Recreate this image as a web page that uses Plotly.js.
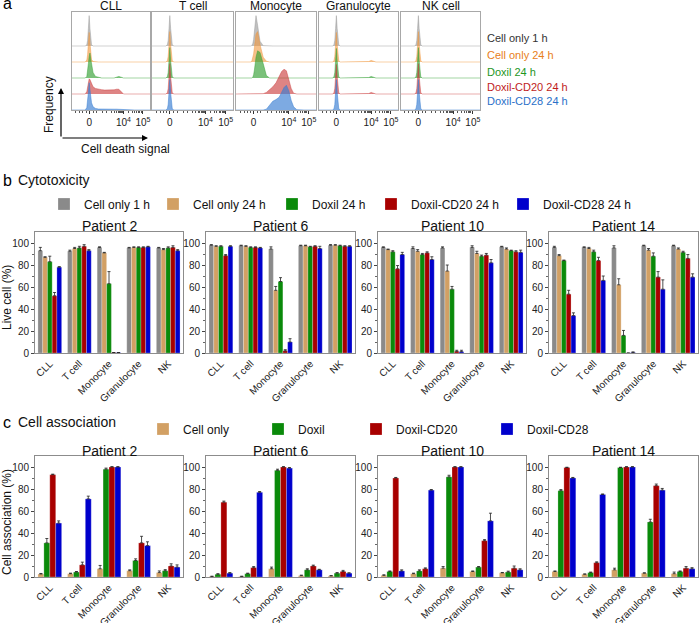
<!DOCTYPE html>
<html>
<head>
<meta charset="utf-8">
<script src="https://cdn.plot.ly/plotly-3.0.1.min.js"></script>
<style>html,body{margin:0;padding:0;background:#fff}#chart{width:700px;height:623px}</style>
</head>
<body>
<div id="chart"></div>
<script>
// ---- data ----
const cellTypes = ["CLL", "T cell", "Monocyte", "Granulocyte", "NK"];
const histTitles = ["CLL", "T cell", "Monocyte", "Granulocyte", "NK cell"];
const patients = ["Patient 2", "Patient 6", "Patient 10", "Patient 14"];
const cytoConditions = ["Cell only 1 h", "Cell only 24 h", "Doxil 24 h", "Doxil-CD20 24 h", "Doxil-CD28 24 h"];
const assocConditions = ["Cell only", "Doxil", "Doxil-CD20", "Doxil-CD28"];

// histogram grid (position across the biexponential axis, 0-100) and heights
const histX = [0, 10, 14, 17, 19, 20, 21, 22, 23, 24, 25, 27, 30, 34, 38, 42, 46, 50, 54, 57, 60, 63, 66, 69, 72, 76, 80, 85, 90, 100];
const peakNarrow = [0, 0, 0, 0, 0.08, 0.35, 1.1, 1.9, 1.1, 0.35, 0.08, 0, 0, 0, 0, 0, 0, 0, 0, 0, 0, 0, 0, 0, 0, 0, 0, 0, 0, 0];
const granBump = [0, 0, 0, 0, 0.08, 0.35, 1.1, 1.85, 1.1, 0.35, 0.08, 0, 0, 0, 0, 0, 0, 0, 0, 0, 0, 0.03, 0.1, 0.03, 0, 0, 0, 0, 0, 0];
const cllCellOnly24 = [0, 0, 0, 0, 0.12, 0.45, 1.2, 1.85, 1.2, 0.5, 0.15, 0.03, 0, 0, 0, 0, 0, 0, 0, 0, 0, 0, 0, 0, 0, 0, 0, 0, 0, 0];
const cllDoxil = [0, 0, 0, 0, 0.1, 0.4, 0.9, 1.35, 1.56, 1.2, 0.8, 0.35, 0.1, 0.03, 0, 0, 0, 0, 0, 0.05, 0.1, 0.05, 0, 0, 0, 0, 0, 0, 0, 0];
const cllCD20 = [0, 0, 0, 0, 0.15, 0.45, 0.8, 0.95, 0.9, 0.75, 0.6, 0.45, 0.35, 0.3, 0.27, 0.25, 0.24, 0.24, 0.26, 0.3, 0.3, 0.15, 0, 0, 0, 0, 0, 0, 0, 0];
const cllCD28 = [0, 0, 0, 0, 0.15, 0.5, 1.1, 1.7, 1.3, 0.8, 0.45, 0.2, 0.1, 0.06, 0.05, 0.05, 0.05, 0.05, 0.05, 0.05, 0.04, 0.03, 0, 0, 0, 0, 0, 0, 0, 0];
const monoCellOnly1 = [0, 0, 0, 0, 0, 0.05, 0.15, 0.4, 0.8, 1.4, 1.9, 1.3, 0.3, 0.02, 0, 0, 0, 0, 0, 0, 0, 0, 0, 0, 0, 0, 0, 0, 0, 0];
const monoCellOnly24 = [0, 0, 0, 0, 0, 0.1, 0.25, 0.5, 0.9, 1.4, 1.75, 1.9, 1.1, 0.3, 0.05, 0, 0, 0, 0, 0, 0, 0, 0, 0, 0, 0, 0, 0, 0, 0];
const monoDoxil = [0, 0, 0, 0, 0, 0, 0.05, 0.2, 0.5, 0.9, 1.3, 1.7, 1.6, 0.9, 0.15, 0, 0, 0, 0, 0, 0, 0, 0, 0, 0, 0, 0, 0, 0, 0];
const monoCD20 = [0, 0, 0, 0, 0, 0, 0, 0, 0, 0, 0, 0, 0, 0.02, 0.1, 0.25, 0.45, 0.7, 1.05, 1.4, 1.55, 1.45, 0.9, 0.35, 0.05, 0, 0, 0, 0, 0];
const monoCD28 = [0, 0, 0, 0, 0, 0, 0, 0, 0, 0, 0, 0, 0, 0, 0.05, 0.3, 0.55, 0.65, 0.8, 1.1, 1.4, 1.55, 1.2, 0.6, 0.2, 0.02, 0, 0, 0, 0];

const histPanels = [
  [peakNarrow, cllCellOnly24, cllDoxil, cllCD20, cllCD28],
  [peakNarrow, peakNarrow, peakNarrow, peakNarrow, peakNarrow],
  [monoCellOnly1, monoCellOnly24, monoDoxil, monoCD20, monoCD28],
  [peakNarrow, granBump, granBump, granBump, peakNarrow],
  [peakNarrow, peakNarrow, peakNarrow, peakNarrow, peakNarrow],
];

// live cell (%), rows = condition, columns = cell type
const liveP2 = [[93, 92.5, 96, 95.5, 95.5], [87, 95, 91, 96, 94], [83, 95.5, 63, 96, 95.5], [52, 97, 0.4, 96, 96], [78, 93, 0.4, 96.5, 93]];
const liveErrP2 = [[3, 1, 0.5, 0.5, 0.5], [0.5, 1, 0.5, 0.5, 1], [5, 1.5, 11, 0.5, 1], [3, 1.5, 0, 0.5, 1.5], [0.5, 1, 0, 0.5, 1]];
const liveP6 = [[98, 97.5, 94.5, 97.5, 98], [97, 97, 57, 97.5, 98], [97, 96, 65, 96.5, 97.5], [88.5, 96, 2, 97, 97], [97, 95.5, 10, 95, 97]];
const liveErrP6 = [[0.5, 0.5, 2, 0.5, 0.5], [0.5, 0.5, 3.5, 0.5, 0.5], [0.5, 0.5, 3.5, 0.5, 0.5], [1, 0.5, 1, 0.5, 0.5], [0.5, 0.5, 3, 2, 0.5]];
const liveP10 = [[96, 95, 95.5, 96, 96.5], [94, 92.5, 74.5, 90.5, 94.5], [92, 89.5, 58, 88, 93], [76.5, 91, 1.5, 89, 92], [89.5, 85, 1.2, 82, 91.5]];
const liveErrP10 = [[0.5, 1.5, 1, 1.5, 0.5], [0.5, 1.5, 5.5, 2, 1], [1, 1, 2.5, 1, 0.5], [3, 1, 1, 1.5, 1], [2, 2.5, 1.3, 3, 2]];
const liveP14 = [[96, 96, 95.5, 97.5, 97.5], [88.5, 95, 62, 93.5, 94.5], [84, 92, 16, 88, 91.5], [53.5, 84, 0, 69, 86], [34, 66, 0.5, 58, 69]];
const liveErrP14 = [[1, 0.5, 2, 0.5, 0.5], [1, 1, 5.5, 1.5, 1], [0.5, 1.5, 4.5, 3, 1], [3.5, 3, 0, 5, 3.5], [2.5, 4, 0.5, 8.5, 3]];

// cell association (%), rows = condition, columns = cell type
const assocP2 = [[2.7, 3, 7.5, 5.7, 4], [31, 4.5, 98, 15, 5.7], [93, 11, 100, 31, 10], [49, 71, 100, 28.5, 9]];
const assocErrP2 = [[0.5, 0.5, 3, 0.8, 1.5], [4, 0.5, 1, 1.5, 1], [0.5, 2.5, 0.3, 6, 2], [2, 2.5, 0.3, 3.5, 2]];
const assocP6 = [[0.5, 0.5, 7.5, 1.2, 1], [2.5, 3, 97, 6.5, 3.5], [68, 8.5, 100, 10, 5], [3.5, 77, 99, 6.5, 3.5]];
const assocErrP6 = [[0.2, 0.2, 1.5, 0.5, 0.3], [0.5, 0.5, 1, 1, 0.5], [1, 1, 0.3, 0.8, 1], [0.5, 0.7, 0.5, 0.5, 0.3]];
const assocP10 = [[1.5, 3, 8, 5, 3.8], [5, 5.5, 91, 9, 4.5], [90, 7.5, 100, 33, 8], [5.5, 79, 100, 51, 6.5]];
const assocErrP10 = [[0.5, 0.5, 1.5, 0.5, 0.3], [0.5, 1, 1.5, 0.5, 0.8], [0.5, 0.8, 0.3, 1, 2], [1, 0.5, 0.3, 7, 1]];
const assocP14 = [[5, 2.5, 6.5, 3.5, 3], [78.5, 4, 99.5, 50, 5], [99.5, 13, 100, 83, 8], [90, 75, 100, 79, 7.5]];
const assocErrP14 = [[0.5, 0.3, 1.5, 0.3, 1.5], [1, 0.5, 0.3, 2.5, 0.5], [0.3, 0.8, 0.3, 1.5, 1.5], [0.5, 0.5, 0.3, 1.5, 1]];

const liveData = [liveP2, liveP6, liveP10, liveP14];
const liveErr = [liveErrP2, liveErrP6, liveErrP10, liveErrP14];
const assocData = [assocP2, assocP6, assocP10, assocP14];
const assocErr = [assocErrP2, assocErrP6, assocErrP10, assocErrP14];

// ---- styling ----
const W = 700, H = 623;
const FONT = "Liberation Sans, Arial, sans-serif";
const px = (x) => x / W;
const py = (y) => 1 - y / H;

const cytoColors = ["#8a8a8a", "#d2a064", "#0a8a0a", "#a80000", "#0000cc"];
const assocColors = ["#d2a064", "#0a8a0a", "#a80000", "#0000cc"];
const histFill = ["rgba(150,150,150,0.6)", "rgba(240,150,60,0.6)", "rgba(50,160,50,0.65)", "rgba(200,50,50,0.6)", "rgba(55,125,210,0.65)"];
const histLine = ["rgba(150,150,150,0.45)", "rgba(240,150,60,0.45)", "rgba(50,160,50,0.45)", "rgba(200,50,50,0.4)", "rgba(55,125,210,0.5)"];
const histLabelColors = ["#333333", "#e8801a", "#1e961e", "#c01c1c", "#2a70c8"];
const histMinor = [5, 10, 14, 18, 27, 31, 39, 44, 50, 54, 57, 59, 61, 62.5, 64, 65, 72, 77, 80, 83, 85, 87, 88.5, 90];

const histDomains = [[72, 150], [152, 233], [236, 316], [319, 398], [401, 480]];
const barDomains = [[35, 183], [206, 355], [378, 526], [549, 698]];

const traces = [];
const annotations = [];
const layout = {
  width: W, height: H,
  margin: { l: 0, r: 0, t: 0, b: 0 },
  paper_bgcolor: "white", plot_bgcolor: "white",
  font: { family: FONT, color: "#222" },
  barmode: "group", bargap: 0.2, bargroupgap: 0,
  showlegend: true,
  annotations,
};

const ax = (n) => (n === 1 ? "" : String(n));

// plain text label placed in pixel coordinates
function label(text, x, y, size, opts = {}) {
  annotations.push(Object.assign({
    text, x: px(x), y: py(y), xref: "paper", yref: "paper", showarrow: false,
    xanchor: "center", yanchor: "middle", font: { size, color: "#111" },
  }, opts));
}

// ---- panel a: histograms ----
histPanels.forEach((rows, i) => {
  const n = i + 1, d = histDomains[i];
  layout["xaxis" + ax(n)] = {
    domain: [px(d[0]), px(d[1])], anchor: "y" + ax(n), range: [0, 100],
    showline: true, mirror: true, linecolor: "#a8a8a8", linewidth: 1,
    showgrid: false, zeroline: false,
    tickmode: "array", tickvals: [22, 66, 91], ticktext: ["0", "10<sup>4</sup>", "10<sup>5</sup>"],
    ticks: "outside", ticklen: 3, tickcolor: "#333", tickfont: { size: 10, color: "#222" },
    minor: { tickmode: "array", tickvals: histMinor, ticks: "outside", ticklen: 2, tickcolor: "#555" },
  };
  layout["yaxis" + ax(n)] = {
    domain: [py(110), py(12)], anchor: "x" + ax(n), range: [0, 6.125],
    showline: true, mirror: true, linecolor: "#a8a8a8", linewidth: 1,
    showgrid: false, zeroline: false, showticklabels: false, ticks: "",
  };
  rows.forEach((h, r) => {
    const base = 4 - r;
    traces.push({
      type: "scatter", mode: "lines", x: histX, y: h.map((v) => v + base),
      fill: "toself", fillcolor: histFill[r], line: { color: histLine[r], width: 1 },
      xaxis: "x" + ax(n), yaxis: "y" + ax(n), showlegend: false, hoverinfo: "skip",
    });
  });
  label(histTitles[i], (d[0] + d[1]) / 2, 6, 12);
});

const histLabelY = [38, 55, 72, 87, 101];
cytoConditions.forEach((c, r) => {
  label(c, 485, histLabelY[r], 11, { xanchor: "left", font: { size: 11, color: histLabelColors[r] } });
});

// axis arrows + labels
annotations.push({ x: px(61), y: py(88), xref: "paper", yref: "paper", ax: 0, ay: 50, text: "", showarrow: true,
  arrowhead: 2, arrowsize: 1, arrowwidth: 1.2, arrowcolor: "#000" });
annotations.push({ x: px(148), y: py(138), xref: "paper", yref: "paper", ax: -87, ay: 0, text: "", showarrow: true,
  arrowhead: 2, arrowsize: 1, arrowwidth: 1.2, arrowcolor: "#000" });
label("Frequency", 49, 105, 12, { textangle: -90 });
label("Cell death signal", 125, 149, 12);

// ---- panels b and c: grouped bars ----
function barAxes(n, d, top, bottom) {
  layout["xaxis" + n] = {
    domain: [px(d[0]), px(d[1])], anchor: "y" + n, type: "category", categoryorder: "array", categoryarray: cellTypes,
    range: [-0.5, 4.5], showline: true, mirror: true, linecolor: "#8c8c8c", linewidth: 1,
    ticks: "", tickangle: -45, tickfont: { size: 10, color: "#222" }, showgrid: false, zeroline: false,
  };
  layout["yaxis" + n] = {
    domain: [py(bottom), py(top)], anchor: "x" + n, range: [0, 110],
    tickvals: [0, 20, 40, 60, 80, 100], ticks: "outside", ticklen: 3, tickcolor: "#444",
    tickfont: { size: 10, color: "#222" }, showline: true, mirror: true, linecolor: "#8c8c8c", linewidth: 1,
    showgrid: false, zeroline: false,
    minor: { tickvals: [10, 30, 50, 70, 90], ticks: "outside", ticklen: 2, tickcolor: "#666" },
  };
}

function barTrace(vals, errs, name, color, n, legendId, show) {
  return {
    type: "bar", x: cellTypes, y: vals, name,
    marker: { color, line: { color: "rgba(255,255,255,0.6)", width: 0.4 } },
    error_y: { type: "data", array: errs, arrayminus: vals.map(() => 0), symmetric: false,
      color: "#222", thickness: 0.8, width: 1.5 },
    xaxis: "x" + n, yaxis: "y" + n, showlegend: show, legend: legendId, hoverinfo: "skip",
  };
}

const cytoLegendX = [84, 193, 312, 411, 543];
const assocLegendX = [183, 298, 396, 527];
const legendIds = ["legend", "legend2", "legend3", "legend4", "legend5", "legend6", "legend7", "legend8", "legend9"];

liveData.forEach((rows, p) => {
  const n = 6 + p;
  barAxes(n, barDomains[p], 232, 353);
  rows.forEach((vals, c) => traces.push(barTrace(vals, liveErr[p][c], cytoConditions[c], cytoColors[c], n, legendIds[c], p === 0)));
  label(patients[p], (barDomains[p][0] + barDomains[p][1]) / 2, 226, 14);
});

assocData.forEach((rows, p) => {
  const n = 10 + p;
  barAxes(n, barDomains[p], 456, 577);
  rows.forEach((vals, c) => traces.push(barTrace(vals, assocErr[p][c], assocConditions[c], assocColors[c], n, legendIds[5 + c], p === 0)));
  label(patients[p], (barDomains[p][0] + barDomains[p][1]) / 2, 451, 14);
});

cytoLegendX.forEach((x, i) => {
  layout[legendIds[i]] = { x: px(x - 40), xanchor: "left", y: py(204), yanchor: "middle", orientation: "h",
    bgcolor: "rgba(0,0,0,0)", font: { size: 12, color: "#111" }, itemwidth: 30 };
});
assocLegendX.forEach((x, i) => {
  layout[legendIds[5 + i]] = { x: px(x - 40), xanchor: "left", y: py(429), yanchor: "middle", orientation: "h",
    bgcolor: "rgba(0,0,0,0)", font: { size: 12, color: "#111" }, itemwidth: 30 };
});

// panel letters, titles, y-axis titles
label("a", 1, 4, 16, { xanchor: "left", font: { size: 16, color: "#000" } });
label("b", 1, 180, 16, { xanchor: "left", font: { size: 16, color: "#000" } });
label("c", 1, 422, 16, { xanchor: "left", font: { size: 16, color: "#000" } });
label("Cytotoxicity", 16, 180, 14, { xanchor: "left" });
label("Cell association", 16, 422, 14, { xanchor: "left" });
label("Live cell (%)", 7, 298, 12, { textangle: -90 });
label("Cell association (%)", 7, 522, 12, { textangle: -90 });

Plotly.newPlot("chart", traces, layout, { staticPlot: true, displayModeBar: false });
</script>
</body>
</html>
